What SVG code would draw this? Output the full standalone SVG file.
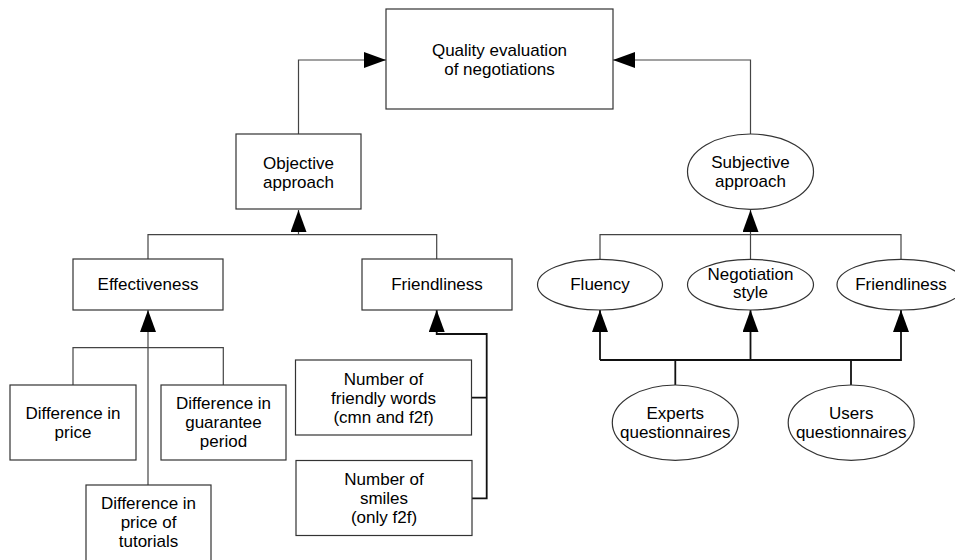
<svg xmlns="http://www.w3.org/2000/svg" width="955" height="560" viewBox="0 0 955 560">
<defs>
<style>
.box{fill:#fff;stroke:#333;stroke-width:1.2}
.t{font-family:"Liberation Sans",Arial,sans-serif;font-size:17px;fill:#000;text-anchor:middle}
.c{fill:none;stroke:#444;stroke-width:1.2}
.c2{fill:none;stroke:#111;stroke-width:1.8}
</style>
<marker id="ah" viewBox="0 0 22 16" refX="22" refY="8" markerWidth="22" markerHeight="16" markerUnits="userSpaceOnUse" orient="auto">
<path d="M0,0 L22,8 L0,16 Z" fill="#000"/>
</marker>
</defs>
<rect width="955" height="560" fill="#fff"/>
<g id="connectors">
<path class="c" d="M298.5,134 V60 H386" marker-end="url(#ah)"/>
<path class="c" d="M750.5,134 V60 H613" marker-end="url(#ah)"/>
<path class="c" d="M148,259 V234.7 H436.7 V259"/>
<path class="c" d="M298.5,234.7 V210" marker-end="url(#ah)"/>
<path class="c" d="M73,385 V347.7 H223.3 V385"/>
<path class="c" d="M148,485 V310" marker-end="url(#ah)"/>
<path class="c2" d="M472,397.7 H486.7 M472,498.3 H486.7 V334 H436.7 V310" marker-end="url(#ah)"/>
<path class="c" d="M600,259.5 V234.7 H901 V259.5 M750.5,234.7 V259.5"/>
<path class="c" d="M750.5,234.7 V210" marker-end="url(#ah)"/>
<path class="c2" d="M675.3,385 V360 H901 V310" marker-end="url(#ah)"/>
<path class="c2" d="M600,360 H675.3" />
<path class="c2" d="M600,360 V310" marker-end="url(#ah)"/>
<path class="c2" d="M750.5,360 V310" marker-end="url(#ah)"/>
<path class="c2" d="M851,385 V360"/>
</g>
<g id="quality">
<rect class="box" x="386" y="9" width="227" height="100"/>
<text class="t" x="499.5" y="56">Quality evaluation</text>
<text class="t" x="499.5" y="75">of negotiations</text>
</g>
<g id="objective">
<rect class="box" x="236" y="134" width="125" height="75"/>
<text class="t" x="298.5" y="169">Objective</text>
<text class="t" x="298.5" y="188">approach</text>
</g>
<g id="effectiveness">
<rect class="box" x="73" y="259" width="150" height="51"/>
<text class="t" x="148" y="290">Effectiveness</text>
</g>
<g id="friendliness-obj">
<rect class="box" x="362" y="259" width="150" height="51"/>
<text class="t" x="437" y="290">Friendliness</text>
</g>
<g id="diff-price">
<rect class="box" x="10" y="385" width="126" height="75"/>
<text class="t" x="73" y="419">Difference in</text>
<text class="t" x="73" y="438">price</text>
</g>
<g id="diff-guarantee">
<rect class="box" x="161" y="385" width="125" height="75"/>
<text class="t" x="223.5" y="409">Difference in</text>
<text class="t" x="223.5" y="428">guarantee</text>
<text class="t" x="223.5" y="447">period</text>
</g>
<g id="diff-tutorials">
<rect class="box" x="86" y="485" width="125" height="80"/>
<text class="t" x="148.5" y="509">Difference in</text>
<text class="t" x="148.5" y="528">price of</text>
<text class="t" x="148.5" y="547">tutorials</text>
</g>
<g id="friendly-words">
<rect class="box" x="295.5" y="360" width="176" height="75"/>
<text class="t" x="383.5" y="385">Number of</text>
<text class="t" x="383.5" y="404">friendly words</text>
<text class="t" x="383.5" y="423">(cmn and f2f)</text>
</g>
<g id="smiles">
<rect class="box" x="296" y="460.5" width="176" height="75"/>
<text class="t" x="384" y="485">Number of</text>
<text class="t" x="384" y="504">smiles</text>
<text class="t" x="384" y="523">(only f2f)</text>
</g>
<g id="subjective">
<ellipse class="box" cx="750.5" cy="171.7" rx="63" ry="37.7"/>
<text class="t" x="750.5" y="168">Subjective</text>
<text class="t" x="750.5" y="187">approach</text>
</g>
<g id="fluency">
<ellipse class="box" cx="600" cy="284.7" rx="62.5" ry="25.3"/>
<text class="t" x="600" y="290">Fluency</text>
</g>
<g id="negotiation-style">
<ellipse class="box" cx="750.5" cy="284.7" rx="63" ry="25.3"/>
<text class="t" x="750.5" y="280">Negotiation</text>
<text class="t" x="750.5" y="298">style</text>
</g>
<g id="friendliness-subj">
<ellipse class="box" cx="901" cy="284.7" rx="64" ry="25.3"/>
<text class="t" x="901" y="290">Friendliness</text>
</g>
<g id="experts">
<ellipse class="box" cx="675.3" cy="422.7" rx="63" ry="37.7"/>
<text class="t" x="675.3" y="419">Experts</text>
<text class="t" x="675.3" y="438">questionnaires</text>
</g>
<g id="users">
<ellipse class="box" cx="851.2" cy="422.7" rx="63" ry="37.7"/>
<text class="t" x="851.2" y="419">Users</text>
<text class="t" x="851.2" y="438">questionnaires</text>
</g>
</svg>
